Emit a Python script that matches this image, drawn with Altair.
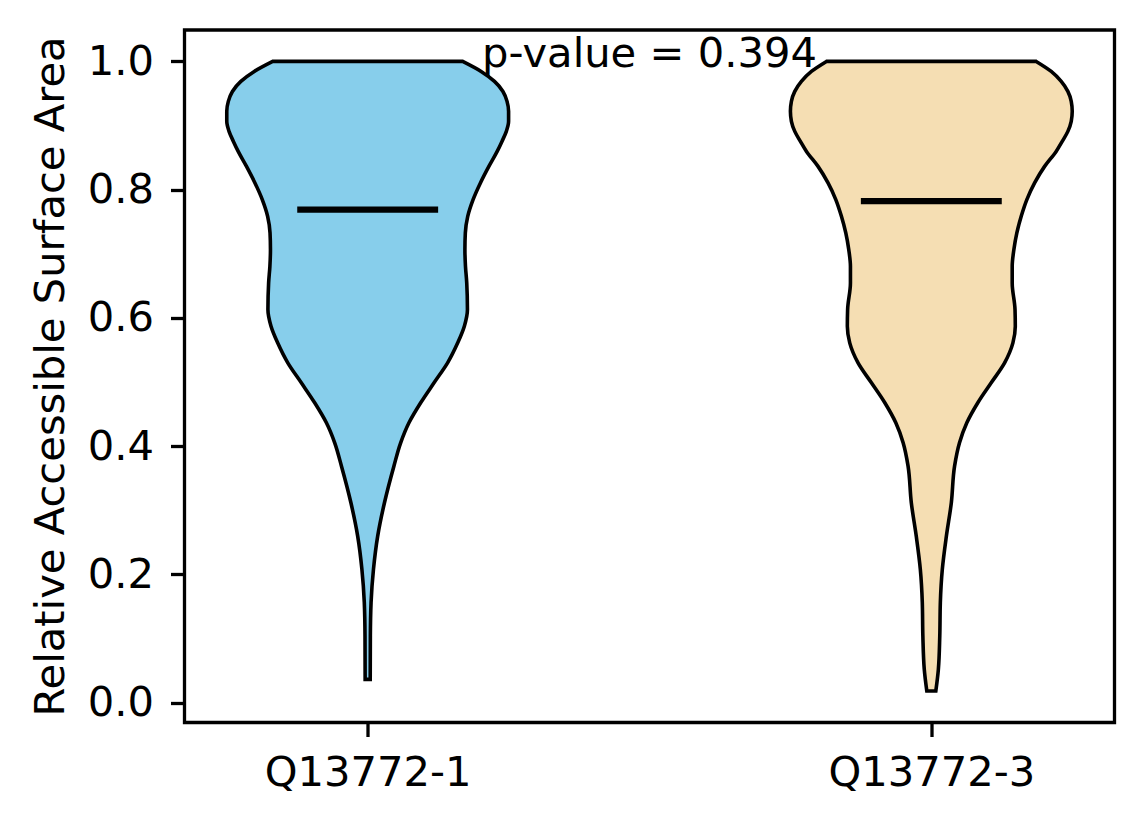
import altair as alt
import pandas as pd

# Categories and styling inputs
names = ["Q13772-1", "Q13772-3"]
positions = [1, 2]
fills = ["#87CEEB", "#F5DEB3"]
medians = [0.769, 0.782]
p_value = 0.394

# Violin outlines: y value and relative density (1 = widest)
y_left = [1.000, 0.9844, 0.9688, 0.9532, 0.9377, 0.9221, 0.9065, 0.8909, 0.8753,
          0.8597, 0.8363, 0.8105, 0.7845, 0.7584, 0.7325, 0.7065, 0.6805,
          0.6546, 0.6130, 0.5870, 0.5611, 0.5299, 0.4988, 0.4676,
          0.4364, 0.4052, 0.3688, 0.3117, 0.2597, 0.2078, 0.1559, 0.1038, 0.0363]
d_left = [0.674, 0.805, 0.900, 0.960, 0.989, 1.000, 1.000, 0.984, 0.953,
          0.919, 0.860, 0.800, 0.748, 0.710, 0.693, 0.690, 0.694,
          0.703, 0.708, 0.686, 0.639, 0.567, 0.471, 0.376,
          0.293, 0.234, 0.186, 0.119, 0.071, 0.041, 0.024, 0.019, 0.018]

y_right = [1.000, 0.9844, 0.9688, 0.9532, 0.9377, 0.9221, 0.9065, 0.8909, 0.8753,
           0.8597, 0.8363, 0.8105, 0.7845, 0.7584, 0.7325, 0.7065, 0.6805,
           0.6546, 0.6130, 0.5870, 0.5611, 0.5299, 0.4988, 0.4676,
           0.4364, 0.4052, 0.3688, 0.3117, 0.2597, 0.2078, 0.1559, 0.1038,
           0.0519, 0.0181]
d_right = [0.744, 0.851, 0.922, 0.969, 0.993, 1.000, 0.993, 0.969, 0.929,
           0.886, 0.804, 0.733, 0.678, 0.638, 0.607, 0.586, 0.574,
           0.574, 0.594, 0.596, 0.579, 0.520, 0.425, 0.330,
           0.252, 0.200, 0.165, 0.142, 0.107, 0.078, 0.064, 0.060,
           0.050, 0.032]

FONT = "DejaVu Sans"
FS = 41.67
HALF = 0.25  # half of violin width 0.5

rows = []
for name, pos, ys, ds in [(names[0], positions[0], y_left, d_left),
                          (names[1], positions[1], y_right, d_right)]:
    for y, d in zip(ys, ds):
        rows.append({"name": name, "y": y, "lo": pos - HALF * d, "hi": pos + HALF * d})
violin_df = pd.DataFrame(rows).sort_values(["name", "y"]).reset_index(drop=True)

med_df = pd.DataFrame({
    "name": names,
    "median": medians,
    "lo": [p - HALF / 2 for p in positions],
    "hi": [p + HALF / 2 for p in positions],
})

txt_df = pd.DataFrame({"x": [1.5], "y": [0.992], "label": [f"p-value = {p_value}"]})

xscale = alt.Scale(domain=[0.675, 2.325], nice=False, zero=False)
yscale = alt.Scale(domain=[-0.031, 1.049], nice=False, zero=False)

label_expr = " : ".join(
    [f"datum.value == {p} ? '{n}'" for p, n in zip(positions, names)] + ["''"]
)

x_axis = alt.Axis(
    values=positions, labelExpr=label_expr, grid=False, domain=False,
    tickColor="black", tickWidth=3.3, tickSize=14, labelFont=FONT,
    labelFontSize=FS, labelColor="black", labelPadding=16, labelBaseline="top",
    labelLimit=0, title=None,
)
y_axis = alt.Axis(
    values=[0.0, 0.2, 0.4, 0.6, 0.8, 1.0], format=".1f", grid=False, domain=False,
    tickColor="black", tickWidth=3.3, tickSize=14, labelFont=FONT,
    labelFontSize=FS, labelColor="black", labelPadding=17, labelLimit=0,
    title="Relative Accessible Surface Area", titleFont=FONT, titleFontSize=FS,
    titleFontWeight="normal", titleColor="black", titleAngle=270,
    titleX=-121, titleY=346, titleAlign="center", titleBaseline="alphabetic",
    titleLimit=0,
)

violins = alt.Chart(violin_df).mark_area(
    orient="horizontal", interpolate="monotone", stroke="black", strokeWidth=3.6,
    opacity=1,
).encode(
    y=alt.Y("y:Q", scale=yscale, axis=y_axis),
    x=alt.X("lo:Q", scale=xscale, axis=x_axis),
    x2="hi:Q",
    color=alt.Color("name:N", scale=alt.Scale(domain=names, range=fills), legend=None),
)

med = alt.Chart(med_df).mark_rule(color="black", strokeWidth=6.25).encode(
    x=alt.X("lo:Q", scale=xscale), x2="hi:Q", y=alt.Y("median:Q", scale=yscale),
)

txt = alt.Chart(txt_df).mark_text(
    font=FONT, fontSize=FS, color="black", align="center", baseline="alphabetic",
).encode(
    x=alt.X("x:Q", scale=xscale), y=alt.Y("y:Q", scale=yscale), text="label:N",
)

chart = alt.layer(violins, med, txt).properties(
    width=930, height=692.5,
    autosize=alt.AutoSizeParams(type="none"),
    padding={"left": 176.5, "top": 22, "right": 20, "bottom": 90},
).configure(
    background="white",
    view=alt.ViewConfig(stroke="black", strokeWidth=3.3),
)

chart.save("out.html", embed_options={"renderer": "svg", "actions": False})
